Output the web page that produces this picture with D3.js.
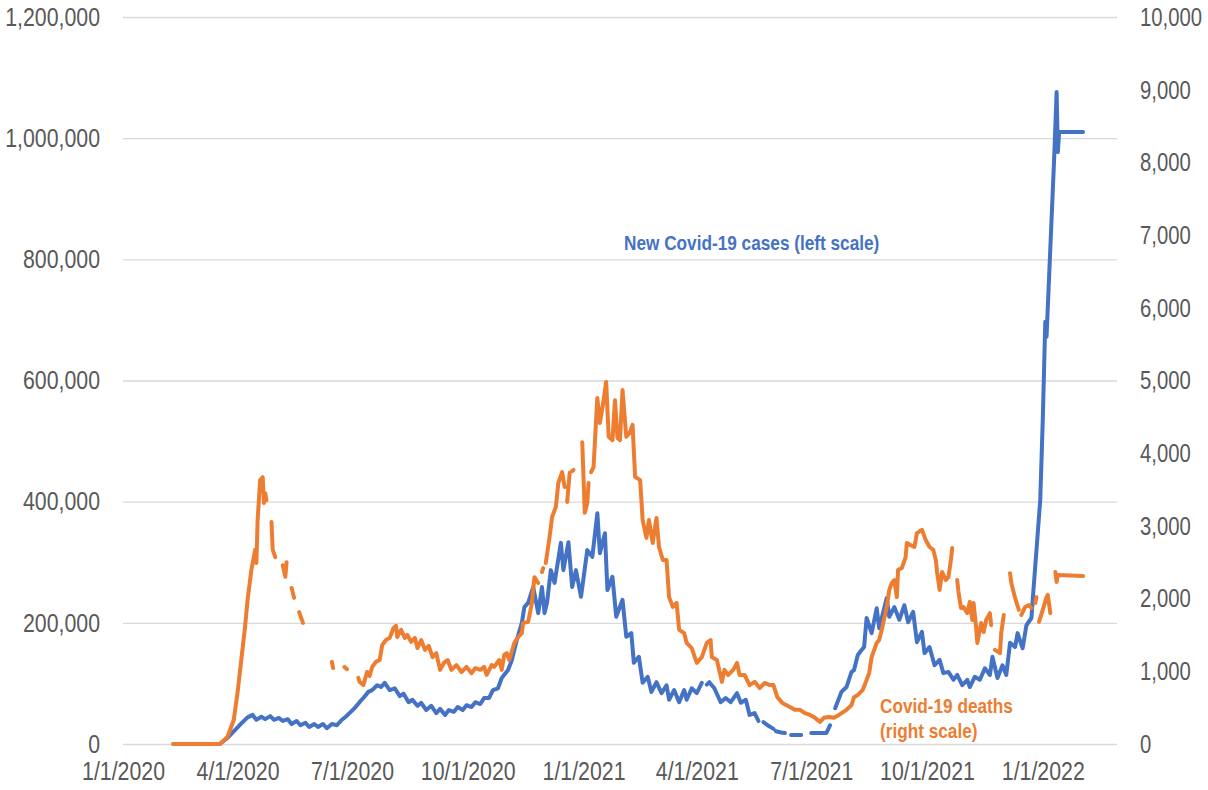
<!DOCTYPE html>
<html>
<head>
<meta charset="utf-8">
<script src="https://cdn.jsdelivr.net/npm/d3@7"></script>
<style>
  html, body { margin: 0; padding: 0; background: #ffffff; }
  svg { display: block; }
  .tick text { font-family: "Liberation Sans Narrow", "Arial Narrow", "Liberation Sans", Arial, sans-serif; font-size: 26px; fill: #595959; }
  .series-label { font-family: "Liberation Sans Narrow", "Arial Narrow", "Liberation Sans", Arial, sans-serif; font-size: 21px; font-weight: bold; }
</style>
</head>
<body>
<svg id="chart" width="1208" height="790"></svg>
<script>
// Tick values
const xTickDates = ["2020-01-01","2020-04-01","2020-07-01","2020-10-01","2021-01-01","2021-04-01","2021-07-01","2021-10-01","2022-01-01"];
const leftTicks = [0, 200000, 400000, 600000, 800000, 1000000, 1200000];
const rightTicks = [0, 1000, 2000, 3000, 4000, 5000, 6000, 7000, 8000, 9000, 10000];

// New Covid-19 cases per day (left scale); null marks missing reports
const newCases = [
  ["2020-02-10",0],["2020-03-18",0],["2020-03-24",10000],["2020-03-30",23000],["2020-04-05",36000],["2020-04-09",44000],
  ["2020-04-13",48000],["2020-04-16",40000],["2020-04-20",45000],["2020-04-23",41000],["2020-04-27",46000],["2020-04-30",40000],
  ["2020-05-04",43000],["2020-05-07",38000],["2020-05-11",41000],["2020-05-14",33000],["2020-05-18",38000],["2020-05-21",31000],
  ["2020-05-25",35000],["2020-05-28",28000],["2020-06-01",33000],["2020-06-04",28000],["2020-06-08",33000],["2020-06-11",26000],
  ["2020-06-15",33000],["2020-06-19",31000],["2020-06-23",40000],["2020-06-26",45000],["2020-06-30",53000],["2020-07-03",59000],
  ["2020-07-07",69000],["2020-07-10",76000],["2020-07-14",86000],["2020-07-17",89000],["2020-07-21",97000],["2020-07-24",94000],
  ["2020-07-27",101000],["2020-07-31",89000],["2020-08-04",92000],["2020-08-08",79000],["2020-08-11",83000],["2020-08-15",69000],
  ["2020-08-18",73000],["2020-08-22",63000],["2020-08-25",68000],["2020-08-29",56000],["2020-09-02",63000],["2020-09-06",51000],
  ["2020-09-09",58000],["2020-09-13",48000],["2020-09-16",56000],["2020-09-20",53000],["2020-09-23",61000],["2020-09-27",56000],
  ["2020-09-30",64000],["2020-10-04",61000],["2020-10-07",69000],["2020-10-11",66000],["2020-10-14",76000],["2020-10-18",76000],
  ["2020-10-21",89000],["2020-10-25",92000],["2020-10-28",109000],["2020-11-02",122000],["2020-11-05",138000],["2020-11-09",172000],
  ["2020-11-13",200000],["2020-11-15",226000],["2020-11-18",233000],["2020-11-22",259000],["2020-11-26",216000],["2020-11-29",259000],
  ["2020-12-01",216000],["2020-12-03",233000],["2020-12-06",287000],["2020-12-09",266000],["2020-12-14",332000],["2020-12-16",287000],
  ["2020-12-20",333000],["2020-12-23",259000],["2020-12-26",287000],["2020-12-30",243000],["2021-01-04",320000],["2021-01-08",309000],
  ["2021-01-12",381000],["2021-01-14",315000],["2021-01-18",348000],["2021-01-20",254000],["2021-01-24",276000],["2021-01-27",210000],
  ["2021-02-01",238000],["2021-02-04",177000],["2021-02-08",183000],["2021-02-10",134000],["2021-02-14",144000],["2021-02-17",101000],
  ["2021-02-21",111000],["2021-02-24",86000],["2021-02-28",102000],["2021-03-04",84000],["2021-03-08",97000],["2021-03-10",73000],
  ["2021-03-14",89000],["2021-03-18",69000],["2021-03-22",89000],["2021-03-24",73000],["2021-03-28",92000],["2021-04-01",84000],
  ["2021-04-05",101000],["2021-04-07",null],["2021-04-09",98000],["2021-04-11",102000],["2021-04-15",92000],["2021-04-20",69000],
  ["2021-04-24",76000],["2021-04-28",69000],["2021-05-03",84000],["2021-05-06",68000],["2021-05-10",73000],["2021-05-13",48000],
  ["2021-05-17",51000],["2021-05-20",38000],["2021-05-22",null],["2021-05-24",36000],["2021-05-28",30000],["2021-06-01",25000],
  ["2021-06-02",null],["2021-06-03",21000],["2021-06-07",19000],["2021-06-10",18000],["2021-06-12",null],["2021-06-15",15000],
  ["2021-06-19",15000],["2021-06-23",15000],["2021-06-26",null],["2021-07-01",18000],["2021-07-07",18000],["2021-07-13",18000],
  ["2021-07-16",31000],["2021-07-18",null],["2021-07-20",59000],["2021-07-25",86000],["2021-07-29",94000],["2021-08-02",119000],
  ["2021-08-04",122000],["2021-08-07",147000],["2021-08-10",155000],["2021-08-12",160000],["2021-08-14",208000],["2021-08-18",183000],
  ["2021-08-22",224000],["2021-08-24",191000],["2021-08-30",241000],["2021-09-01",210000],["2021-09-05",226000],["2021-09-09",205000],
  ["2021-09-13",229000],["2021-09-16",201000],["2021-09-20",218000],["2021-09-23",168000],["2021-09-27",185000],["2021-09-29",150000],
  ["2021-10-03",160000],["2021-10-07",130000],["2021-10-11",139000],["2021-10-14",117000],["2021-10-18",119000],["2021-10-22",106000],
  ["2021-10-25",114000],["2021-10-29",97000],["2021-11-02",106000],["2021-11-04",94000],["2021-11-08",111000],["2021-11-12",106000],
  ["2021-11-16",125000],["2021-11-20",114000],["2021-11-22",144000],["2021-11-26",109000],["2021-11-30",130000],["2021-12-03",114000],
  ["2021-12-06",167000],["2021-12-10",160000],["2021-12-12",183000],["2021-12-16",158000],["2021-12-19",196000],["2021-12-23",208000],
  ["2021-12-24",238000],["2021-12-27",320000],["2021-12-30",403000],["2022-01-01",535000],["2022-01-03",697000],["2022-01-04",672000],
  ["2022-01-10",964000],["2022-01-12",1076000],["2022-01-13",977000],["2022-01-14",1010000],["2022-02-02",1010000]
];

// Covid-19 deaths per day (right scale); null marks missing reports
const deaths = [
  ["2020-02-10",0],["2020-03-18",0],["2020-03-24",96],["2020-03-29",330],["2020-04-01",700],["2020-04-04",1155],["2020-04-07",1610],
  ["2020-04-09",1980],["2020-04-12",2390],["2020-04-15",2670],["2020-04-16",2490],["2020-04-17",3080],["2020-04-19",3630],
  ["2020-04-21",3670],["2020-04-22",3315],["2020-04-23",3450],["2020-04-24",3355],["2020-04-26",null],["2020-04-28",3055],
  ["2020-04-29",2670],["2020-05-01",2570],["2020-05-04",null],["2020-05-07",2460],["2020-05-09",2300],["2020-05-10",2500],
  ["2020-05-12",null],["2020-05-14",2145],["2020-05-16",2010],["2020-05-18",null],["2020-05-20",1815],["2020-05-23",1665],
  ["2020-06-01",null],["2020-06-15",1130],["2020-06-16",1045],["2020-06-20",null],["2020-06-25",1060],["2020-06-27",1030],
  ["2020-07-01",null],["2020-07-06",910],["2020-07-07",855],["2020-07-10",810],["2020-07-13",990],["2020-07-15",935],
  ["2020-07-17",1060],["2020-07-20",1130],["2020-07-23",1155],["2020-07-25",1360],["2020-07-28",1430],["2020-07-31",1460],
  ["2020-08-03",1595],["2020-08-05",1625],["2020-08-06",1470],["2020-08-09",1570],["2020-08-12",1460],["2020-08-14",1500],
  ["2020-08-17",1405],["2020-08-20",1460],["2020-08-22",1320],["2020-08-25",1430],["2020-08-28",1295],["2020-08-31",1350],
  ["2020-09-03",1195],["2020-09-06",1250],["2020-09-09",1020],["2020-09-12",1115],["2020-09-15",1155],["2020-09-18",1020],
  ["2020-09-22",1085],["2020-09-26",990],["2020-09-30",1060],["2020-10-04",975],["2020-10-07",1045],["2020-10-11",1020],
  ["2020-10-14",1060],["2020-10-16",950],["2020-10-20",1085],["2020-10-22",1060],["2020-10-26",1155],["2020-10-28",1020],
  ["2020-10-30",1225],["2020-11-01",1250],["2020-11-03",1155],["2020-11-07",1390],["2020-11-10",1470],["2020-11-13",1525],
  ["2020-11-14",1665],["2020-11-18",1680],["2020-11-21",1940],["2020-11-23",2295],["2020-11-26",2215],["2020-11-27",null],
  ["2020-11-29",2365],["2020-11-30",2420],["2020-12-01",null],["2020-12-02",2490],["2020-12-05",2845],["2020-12-07",3120],
  ["2020-12-10",3260],["2020-12-12",3590],["2020-12-15",3740],["2020-12-17",3535],["2020-12-18",null],["2020-12-19",3330],
  ["2020-12-21",3730],["2020-12-22",null],["2020-12-23",3755],["2020-12-24",3770],["2020-12-27",null],["2020-12-31",4150],
  ["2021-01-02",3180],["2021-01-04",3315],["2021-01-05",3590],["2021-01-06",null],["2021-01-07",3740],["2021-01-09",3810],
  ["2021-01-10",4140],["2021-01-12",4760],["2021-01-14",4415],["2021-01-17",4730],["2021-01-19",4980],["2021-01-21",4225],
  ["2021-01-24",4180],["2021-01-26",4730],["2021-01-28",4210],["2021-01-30",4180],["2021-02-01",4870],["2021-02-04",4225],
  ["2021-02-07",4290],["2021-02-09",4390],["2021-02-11",3675],["2021-02-15",3630],["2021-02-17",3080],["2021-02-20",2835],
  ["2021-02-22",3080],["2021-02-25",2765],["2021-02-28",3110],["2021-03-02",2710],["2021-03-05",2530],["2021-03-08",2530],
  ["2021-03-10",2020],["2021-03-13",1885],["2021-03-16",1940],["2021-03-18",1570],["2021-03-22",1525],["2021-03-24",1390],
  ["2021-03-28",1320],["2021-04-01",1115],["2021-04-05",1195],["2021-04-09",1390],["2021-04-12",1430],["2021-04-13",1195],
  ["2021-04-17",1155],["2021-04-21",855],["2021-04-23",1020],["2021-04-26",950],["2021-04-30",1020],["2021-05-03",1115],
  ["2021-05-05",950],["2021-05-09",950],["2021-05-13",810],["2021-05-17",855],["2021-05-21",770],["2021-05-25",840],
  ["2021-05-29",810],["2021-06-01",810],["2021-06-04",645],["2021-06-08",565],["2021-06-14",510],["2021-06-18",470],
  ["2021-06-22",470],["2021-06-26",425],["2021-06-30",400],["2021-07-04",360],["2021-07-08",305],["2021-07-11",360],
  ["2021-07-15",370],["2021-07-19",360],["2021-07-23",400],["2021-07-29",470],["2021-08-02",535],["2021-08-04",645],
  ["2021-08-07",675],["2021-08-11",745],["2021-08-14",880],["2021-08-16",975],["2021-08-18",1195],["2021-08-22",1390],
  ["2021-08-24",1430],["2021-08-26",1570],["2021-08-30",1885],["2021-09-01",2120],["2021-09-03",2215],["2021-09-05",2255],
  ["2021-09-07",2020],["2021-09-08",2395],["2021-09-11",2420],["2021-09-14",2570],["2021-09-15",2765],["2021-09-18",2735],
  ["2021-09-21",2710],["2021-09-23",2900],["2021-09-27",2945],["2021-09-30",2805],["2021-10-03",2710],["2021-10-06",2670],
  ["2021-10-08",2530],["2021-10-09",2365],["2021-10-11",2120],["2021-10-13",2365],["2021-10-16",2255],["2021-10-18",2295],
  ["2021-10-20",2530],["2021-10-21",2695],["2021-10-23",null],["2021-10-25",2255],["2021-10-26",2090],["2021-10-28",1870],
  ["2021-10-30",1885],["2021-11-02",1800],["2021-11-04",1955],["2021-11-06",1705],["2021-11-07",1940],["2021-11-09",1610],
  ["2021-11-10",1390],["2021-11-13",1665],["2021-11-15",1540],["2021-11-17",1705],["2021-11-20",1800],["2021-11-21",1635],
  ["2021-11-23",null],["2021-11-24",1295],["2021-11-28",1250],["2021-11-29",1525],["2021-12-01",1775],["2021-12-03",null],
  ["2021-12-06",2350],["2021-12-07",2215],["2021-12-10",2010],["2021-12-13",1845],["2021-12-14",null],["2021-12-15",1775],
  ["2021-12-18",1885],["2021-12-21",1910],["2021-12-23",1870],["2021-12-25",null],["2021-12-26",1940],["2021-12-27",2020],
  ["2021-12-28",null],["2021-12-29",1680],["2022-01-01",1845],["2022-01-04",2020],["2022-01-05",2050],["2022-01-07",1800],
  ["2022-01-09",null],["2022-01-11",2365],["2022-01-12",2230],["2022-01-13",2325],["2022-02-02",2310]
];

const casesLabel = "New Covid-19 cases (left scale)";
const deathsLabelLines = ["Covid-19 deaths", "(right scale)"];

const parse = d3.timeParse("%Y-%m-%d");
const svg = d3.select("#chart");
const plot = { left: 123, right: 1117, top: 17, bottom: 744 };

const x = d3.scaleTime()
  .domain([parse("2020-01-01"), parse("2022-03-01")])
  .range([plot.left, plot.right]);
const yLeft = d3.scaleLinear().domain([0, 1200000]).range([plot.bottom, plot.top]);
const yRight = d3.scaleLinear().domain([0, 10000]).range([plot.bottom, plot.top]);

// Squeeze text horizontally about its own anchor point (narrow typeface look)
function condense(sel, ratio) {
  sel.each(function () {
    const t = d3.select(this);
    const tx = +(t.attr("x") || 0);
    const ty = +(t.attr("y") || 0);
    t.attr("x", 0).attr("y", 0)
     .attr("transform", `translate(${tx},${ty}) scale(${ratio},1)`);
  });
}

// Left axis with horizontal gridlines
const leftAxis = svg.append("g")
  .attr("transform", `translate(${plot.left},0)`)
  .call(d3.axisLeft(yLeft)
    .tickValues(leftTicks)
    .tickFormat(d3.format(","))
    .tickSizeInner(-(plot.right - plot.left))
    .tickSizeOuter(0)
    .tickPadding(23));
leftAxis.select(".domain").remove();
leftAxis.selectAll(".tick line").attr("stroke", "#d9d9d9").attr("stroke-width", 1.4);
leftAxis.selectAll(".tick text").attr("x", -23);

// Right axis (labels only)
const rightAxis = svg.append("g")
  .attr("transform", `translate(${plot.right},0)`)
  .call(d3.axisRight(yRight)
    .tickValues(rightTicks)
    .tickFormat(d3.format(","))
    .tickSize(0)
    .tickPadding(23));
rightAxis.select(".domain").remove();

// Bottom axis (labels only)
const fmtDate = d => `${d.getMonth() + 1}/${d.getDate()}/${d.getFullYear()}`;
const bottomAxis = svg.append("g")
  .attr("transform", `translate(0,${plot.bottom})`)
  .call(d3.axisBottom(x)
    .tickValues(xTickDates.map(parse))
    .tickFormat(fmtDate)
    .tickSize(0)
    .tickPadding(18));
bottomAxis.select(".domain").remove();

condense(leftAxis.selectAll(".tick text"), 0.82);
condense(bottomAxis.selectAll(".tick text"), 0.82);
condense(rightAxis.selectAll(".tick text"), 0.78);

// Series lines
function drawSeries(data, yScale, color) {
  const line = d3.line()
    .defined(d => d[1] !== null)
    .x(d => x(parse(d[0])))
    .y(d => yScale(d[1]));
  svg.append("path")
    .datum(data)
    .attr("fill", "none")
    .attr("stroke", color)
    .attr("stroke-width", 4)
    .attr("stroke-linejoin", "round")
    .attr("stroke-linecap", "round")
    .attr("d", line);
}
drawSeries(newCases, yLeft, "#4472C4");
drawSeries(deaths, yRight, "#ED7D31");

// Series labels
svg.append("text")
  .attr("class", "series-label")
  .attr("x", 624).attr("y", 250)
  .attr("fill", "#4472C4")
  .text(casesLabel);

deathsLabelLines.forEach((line, i) => {
  svg.append("text")
    .attr("class", "series-label")
    .attr("x", 880).attr("y", 713 + i * 25)
    .attr("fill", "#ED7D31")
    .text(line);
});

condense(svg.selectAll("text.series-label"), 0.82);
</script>
</body>
</html>
